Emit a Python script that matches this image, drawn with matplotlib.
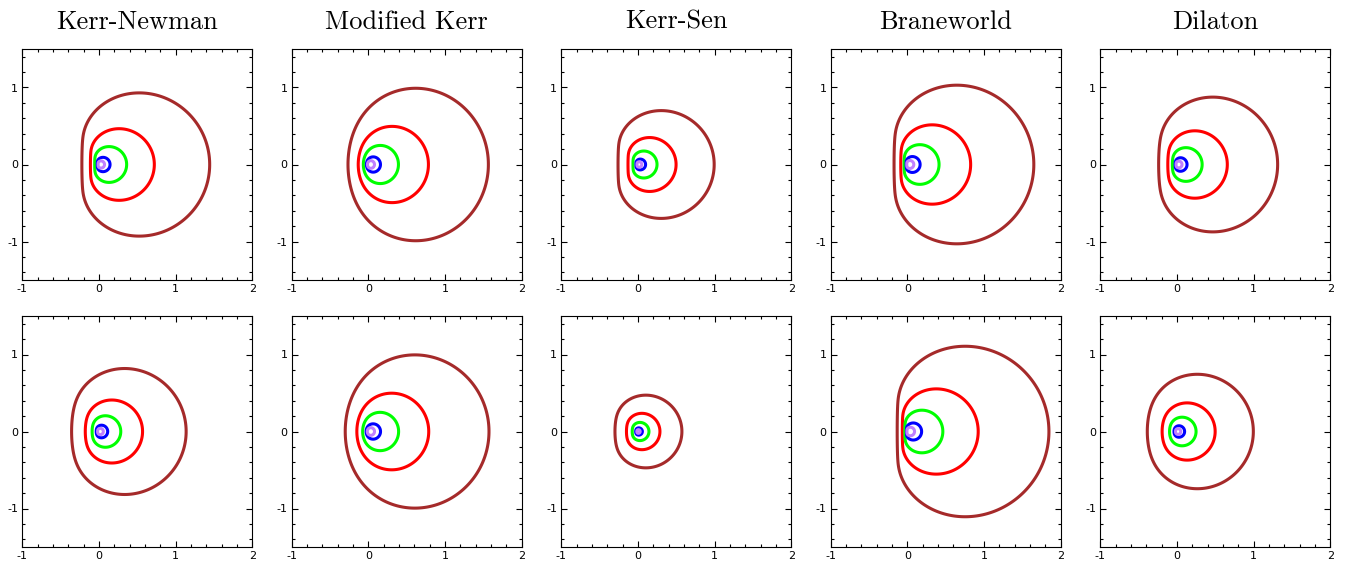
import numpy as np
import matplotlib.pyplot as plt
from matplotlib.patches import Polygon
from matplotlib.ticker import MultipleLocator

plt.rcParams['axes.unicode_minus'] = False

# model names across the top
titles = ["Kerr-Newman", "Modified Kerr", "Kerr-Sen", "Braneworld", "Dilaton"]

# outer (brown) shadow edges per panel, row 1 then row 2
left_edge_top = [-0.223, -0.267, -0.260, -0.175, -0.239]
right_edge_top = [1.444, 1.564, 0.994, 1.648, 1.313]
half_height_top = [0.930, 0.990, 0.700, 1.030, 0.875]
spin_top = [0.999, 0.880, 0.999, 0.999, 0.995]

left_edge_bot = [-0.357, -0.303, -0.300, -0.134, -0.387]
right_edge_bot = [1.137, 1.572, 0.573, 1.845, 0.996]
half_height_bot = [0.818, 0.995, 0.472, 1.107, 0.743]
spin_bot = [0.980, 0.860, 0.985, 0.9995, 0.950]

# nested curves: relative size and colour
scales = [1.0, 0.5, 0.25, 0.1, 0.05]
colors = ["#a52a2a", "#ff0000", "#00ff00", "#0000ff", "#c080ff"]


def kerr_shadow(a, n=600):
    """Closed Kerr shadow outline (alpha, beta) for spin a, M = 1."""
    rh = 1 + np.sqrt(max(1 - a * a, 0.0))
    r = np.linspace(rh + 1e-6, 6.0, 200000)
    delta = r**2 - 2 * r + a * a
    xi = (r**2 + a * a) / a - 2 * r * delta / (a * (r - 1))
    eta = 4 * r**2 * delta / (r - 1)**2 - (xi - a)**2
    ok = np.where(eta >= 0)[0]
    r1, r2 = r[ok[0]], r[ok[-1]]
    t = np.linspace(0, np.pi, n)
    r = r1 + (r2 - r1) * (1 - np.cos(t)) / 2
    delta = r**2 - 2 * r + a * a
    xi = (r**2 + a * a) / a - 2 * r * delta / (a * (r - 1))
    eta = 4 * r**2 * delta / (r - 1)**2 - (xi - a)**2
    alpha = -xi
    beta = np.sqrt(np.clip(eta, 0, None))
    x = np.concatenate([alpha, alpha[-2:0:-1]])
    y = np.concatenate([beta, -beta[-2:0:-1]])
    return x, y


fig = plt.figure(figsize=(13.49, 5.63), dpi=100)
W, H = 1349.0, 563.0

rows = [
    (left_edge_top, right_edge_top, half_height_top, spin_top, 49),
    (left_edge_bot, right_edge_bot, half_height_bot, spin_bot, 316),
]

for ri, (lefts, rights, halfs, spins, top_px) in enumerate(rows):
    for ci in range(5):
        x0 = 22.3 + 269.5 * ci
        ax = fig.add_axes([x0 / W, 1 - (top_px + 231) / H, 230 / W, 231 / H])

        al, be = kerr_shadow(spins[ci])
        xs = lefts[ci] + (al - al.min()) / (al.max() - al.min()) * (rights[ci] - lefts[ci])
        ys = be / be.max() * halfs[ci]
        for s, c in zip(scales, colors):
            ax.add_patch(Polygon(np.column_stack([xs * s, ys * s]), closed=True,
                                 fill=False, edgecolor=c, lw=2.2, joinstyle='round'))

        ax.set_xlim(-1, 2)
        ax.set_ylim(-1.5, 1.5)
        ax.set_xticks([-1, 0, 1, 2])
        ax.set_yticks([-1, 0, 1])
        ax.xaxis.set_minor_locator(MultipleLocator(0.2))
        ax.yaxis.set_minor_locator(MultipleLocator(0.2))
        ax.tick_params(which='both', direction='in', top=True, right=True,
                       labelsize=8, width=0.8, pad=3)
        ax.tick_params(which='major', length=4)
        ax.tick_params(which='minor', length=2)
        for sp in ax.spines.values():
            sp.set_linewidth(0.8)

        if ri == 0:
            fig.text((x0 + 115) / W, 1 - 22 / H, titles[ci], family='cmr10',
                     fontsize=19, ha='center', va='center')

fig.savefig("out.png", dpi=100)
